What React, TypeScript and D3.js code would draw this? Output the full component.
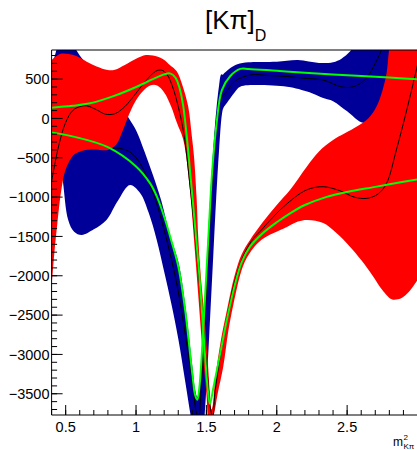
import React from "react";
import * as d3 from "d3";

type Pt = [number, number];

const W = 417;
const H = 450;

// Axis ranges and tick values
const xDomain: [number, number] = [0.4, 3.0];
const yDomain: [number, number] = [-3770, 870];
const xMajorTicks = [0.5, 1, 1.5, 2, 2.5];
const xTickLabels = ["0.5", "1", "1.5", "2", "2.5"];
const yMajorTicks = [500, 0, -500, -1000, -1500, -2000, -2500, -3000, -3500];

// Blue error band (upper / lower edges) and its central value
const blueUpper: Pt[] = [
  [0.4, 600], [0.44, 900], [0.5, 1100], [0.55, 950], [0.6, 800], [0.65, 700],
  [0.7, 620], [0.8, 420], [0.88, 200], [0.95, 0], [1.0, -150], [1.06, -420],
  [1.12, -720], [1.18, -1050], [1.24, -1480], [1.3, -1820], [1.35, -2380],
  [1.4, -3150], [1.42, -3450], [1.435, -3540], [1.45, -3400], [1.47, -2850],
  [1.49, -2250], [1.51, -1550], [1.53, -900], [1.55, -350], [1.57, 100],
  [1.59, 420], [1.605, 560], [1.615, 555], [1.63, 580], [1.67, 640],
  [1.72, 690], [1.8, 715], [2.0, 720], [2.15, 742], [2.3, 705], [2.4, 715],
  [2.46, 760], [2.52, 850], [2.58, 1000], [3.0, 1500],
];
const blueLower: Pt[] = [
  [0.4, -150], [0.45, -400], [0.48, -800], [0.518, -1291], [0.56, -1440],
  [0.614, -1482], [0.7, -1410], [0.79, -1291], [0.87, -1050], [0.957, -846],
  [1.03, -950], [1.09, -1200], [1.147, -1545], [1.2, -1950], [1.25, -2350],
  [1.3, -2800], [1.35, -3350], [1.39, -3800], [1.43, -4200], [1.47, -4100],
  [1.49, -3700], [1.51, -3100], [1.53, -2400], [1.55, -1700], [1.57, -1000],
  [1.59, -400], [1.61, 50], [1.62, 131], [1.644, 192], [1.7, 330], [1.74, 403],
  [1.86, 424], [2.0, 415], [2.1, 395], [2.25, 320], [2.33, 260], [2.4, 220],
  [2.5, 90], [2.6, -50], [2.66, -60], [2.72, 0], [2.77, 250], [2.8, 700],
  [2.83, 1100], [3.0, 1500],
];
const blueCenter: Pt[] = [
  [0.4, 100], [0.45, -100], [0.52, -250], [0.6, -340], [0.67, -370], [0.75, -385],
  [0.82, -375], [0.88, -380], [0.95, -420], [1.0, -500], [1.05, -640],
  [1.1, -850], [1.15, -1100], [1.2, -1420], [1.25, -1780], [1.3, -2200],
  [1.35, -2750], [1.4, -3350], [1.43, -3750], [1.445, -3800], [1.46, -3500],
  [1.48, -2900], [1.5, -2200], [1.52, -1500], [1.54, -800], [1.56, -250],
  [1.58, 100], [1.6, 250], [1.644, 340], [1.7, 470], [1.81, 552], [1.95, 545],
  [2.094, 530], [2.2, 510], [2.33, 488], [2.45, 405], [2.52, 395], [2.58, 430],
  [2.64, 520], [2.7, 700], [2.75, 900], [2.8, 1200],
];

// Red error band (upper / lower edges) and its central value
const redUpper: Pt[] = [
  [0.4, 742], [0.46, 818], [0.52, 818], [0.58, 790], [0.65, 720], [0.72, 660],
  [0.8, 615], [0.85, 620], [0.92, 680], [1.0, 760], [1.07, 806], [1.12, 800],
  [1.19, 757], [1.24, 680], [1.289, 600], [1.33, 420], [1.371, 149],
  [1.395, -200], [1.412, -487], [1.43, -1000], [1.443, -1545], [1.46, -2000],
  [1.49, -2600], [1.51, -3100], [1.525, -3500], [1.535, -3700], [1.545, -3650],
  [1.56, -3350], [1.6, -2850], [1.65, -2400], [1.7, -2000], [1.75, -1730],
  [1.81, -1545], [1.9, -1320], [2.0, -1100], [2.094, -911], [2.213, -614],
  [2.3, -420], [2.4, -275], [2.566, -106], [2.65, 0], [2.708, 149], [2.75, 350],
  [2.78, 573], [2.8, 900], [2.85, 1400], [3.0, 2000],
];
const redLower: Pt[] = [
  [0.4, -2139], [0.42, -1700], [0.44, -1350], [0.47, -900], [0.5, -650],
  [0.56, -460], [0.62, -410], [0.7, -395], [0.8, -400], [0.86, -330],
  [0.9, -180], [0.95, 50], [1.0, 230], [1.05, 350], [1.1, 420], [1.15, 420],
  [1.2, 330], [1.25, 150], [1.289, -50], [1.336, -275], [1.383, -910],
  [1.412, -1545], [1.44, -2200], [1.47, -2900], [1.5, -3500], [1.52, -3900],
  [1.549, -3790], [1.58, -3500], [1.62, -3155], [1.656, -2700], [1.69, -2380],
  [1.76, -1880], [1.82, -1680], [1.88, -1560], [1.95, -1480], [2.05, -1400],
  [2.15, -1310], [2.22, -1290], [2.33, -1330], [2.42, -1450], [2.52, -1630],
  [2.6, -1800], [2.686, -2012], [2.75, -2180], [2.817, -2300], [2.86, -2300],
  [2.9, -2266], [2.95, -2180], [3.0, -2054],
];
const redCenter: Pt[] = [
  [0.4, -800], [0.45, -350], [0.5, -50], [0.55, 100], [0.6, 150], [0.65, 160],
  [0.72, 110], [0.78, 55], [0.85, 60], [0.92, 150], [1.0, 320], [1.07, 480],
  [1.14, 600], [1.18, 615], [1.22, 560], [1.26, 400], [1.3, 150], [1.34, -200],
  [1.38, -800], [1.42, -1500], [1.46, -2300], [1.5, -3100], [1.53, -3700],
  [1.545, -3800], [1.56, -3500], [1.6, -3000], [1.65, -2500], [1.7, -2080],
  [1.76, -1760], [1.82, -1560], [1.9, -1400], [1.95, -1300], [2.05, -1120],
  [2.21, -910], [2.33, -868], [2.45, -920], [2.55, -1000], [2.64, -1016],
  [2.72, -960], [2.78, -825], [2.85, -400], [2.9, -60], [2.95, 300], [3.0, 680],
];

// Fitted curves
const fitRed: Pt[] = [
  [0.4, 136], [0.55, 160], [0.673, 192], [0.85, 290], [1.005, 403], [1.12, 500],
  [1.2, 560], [1.241, 573], [1.28, 520], [1.31, 380], [1.336, 149],
  [1.37, -400], [1.407, -1122], [1.45, -2000], [1.49, -3000], [1.51, -3450],
  [1.525, -3630], [1.55, -3420], [1.6, -2970], [1.65, -2520], [1.7, -2130],
  [1.75, -1830], [1.81, -1630], [1.9, -1460], [2.0, -1320], [2.1, -1200],
  [2.2, -1100], [2.35, -1000], [2.5, -935], [2.7, -870], [2.85, -820],
  [3.0, -775],
];
const fitBlue: Pt[] = [
  [0.4, -177], [0.6, -250], [0.8, -365], [1.0, -610], [1.1, -825],
  [1.15, -1000], [1.2, -1250], [1.25, -1550], [1.3, -1880], [1.35, -2450],
  [1.4, -3250], [1.42, -3520], [1.435, -3575], [1.45, -3420], [1.48, -2600],
  [1.513, -1545], [1.54, -700], [1.57, -100], [1.61, 360], [1.67, 540],
  [1.74, 630], [1.8, 630], [2.0, 605], [2.2, 580], [2.5, 550], [2.8, 520],
  [3.0, 497],
];

const BLUE = "#000099";
const RED = "#ff0000";
const GREEN = "#00ff00";
const FONT = "Liberation Sans, Arial, sans-serif";

export default function App() {
  const x = d3.scaleLinear().domain(xDomain).range([51.6, 417.5]);
  const y = d3.scaleLinear().domain(yDomain).range([415, 50]);

  const line = d3
    .line<Pt>()
    .x((d) => x(d[0]))
    .y((d) => y(d[1]))
    .curve(d3.curveCatmullRom.alpha(0.5));

  // closed outline: upper edge left-to-right, lower edge back right-to-left
  const band = (up: Pt[], lo: Pt[]) => {
    const a = line(up) as string;
    const b = line([...lo].reverse()) as string;
    return a + "L" + b.slice(1) + "Z";
  };

  const [x0, x1] = x.range();
  const [yb, yt] = y.range();

  const xMinor = d3.range(4, 30).map((i) => i / 10);
  const yMinor = d3.range(-37, 9).map((i) => i * 100);

  return (
    <svg width={W} height={H} style={{ display: "block", position: "absolute", left: 0, top: 0 }}>
      <rect x={0} y={0} width={W} height={H} fill="#fff" />
      <defs>
        <clipPath id="plotArea">
          <rect x={x0} y={yt} width={x1 - x0} height={yb - yt} />
        </clipPath>
      </defs>
      <g clipPath="url(#plotArea)">
        <path d={band(blueUpper, blueLower)} fill={BLUE} />
        <path d={line(blueCenter) as string} fill="none" stroke="#000" strokeWidth={1} />
        <path d={band(redUpper, redLower)} fill={RED} />
        <path d={line(redCenter) as string} fill="none" stroke="#000" strokeWidth={1} />
        <path d={line(fitRed) as string} fill="none" stroke={GREEN} strokeWidth={2} />
        <path d={line(fitBlue) as string} fill="none" stroke={GREEN} strokeWidth={2} />
      </g>

      {/* frame */}
      <line x1={x0} x2={x1} y1={yt} y2={yt} stroke="#000" strokeWidth={1} />
      <line x1={x0} x2={x1} y1={yb} y2={yb} stroke="#000" strokeWidth={1} />
      <line x1={x0} x2={x0} y1={yt} y2={yb} stroke="#000" strokeWidth={1} />

      {/* x axis ticks */}
      {xMinor.map((v) => (
        <line key={"xm" + v} x1={x(v)} x2={x(v)} y1={yb} y2={yb - 5} stroke="#000" />
      ))}
      {xMajorTicks.map((v) => (
        <line key={"xM" + v} x1={x(v)} x2={x(v)} y1={yb} y2={yb - 10} stroke="#000" />
      ))}
      {xMajorTicks.map((v, i) => (
        <text key={"xl" + v} x={x(v)} y={431.5} textAnchor="middle"
          fontFamily={FONT} fontSize={14.5} fill="#000">
          {xTickLabels[i]}
        </text>
      ))}

      {/* y axis ticks */}
      {yMinor.map((v) => (
        <line key={"ym" + v} x1={x0} x2={x0 + 5.5} y1={y(v)} y2={y(v)} stroke="#000" />
      ))}
      {yMajorTicks.map((v) => (
        <line key={"yM" + v} x1={x0} x2={x0 + 11} y1={y(v)} y2={y(v)} stroke="#000" />
      ))}
      {yMajorTicks.map((v) => (
        <text key={"yl" + v} x={49.5} y={y(v) + 5.3} textAnchor="end"
          fontFamily={FONT} fontSize={14.5} fill="#000">
          {v < 0 ? "\u2212" + Math.abs(v) : String(v)}
        </text>
      ))}

      {/* title */}
      <text x={205} y={28.5} fontFamily={FONT} fontSize={26} fill="#000">
        [Kπ]
        <tspan fontSize={16} dy={12}>D</tspan>
      </text>

      {/* x axis title */}
      <text x={393} y={446} fontFamily={FONT} fontSize={12} fill="#000">
        m
      </text>
      <text x={403.5} y={440} fontFamily={FONT} fontSize={8} fill="#000">
        2
      </text>
      <text x={403.5} y={449} fontFamily={FONT} fontSize={8} fill="#000">
        Kπ
      </text>
    </svg>
  );
}
